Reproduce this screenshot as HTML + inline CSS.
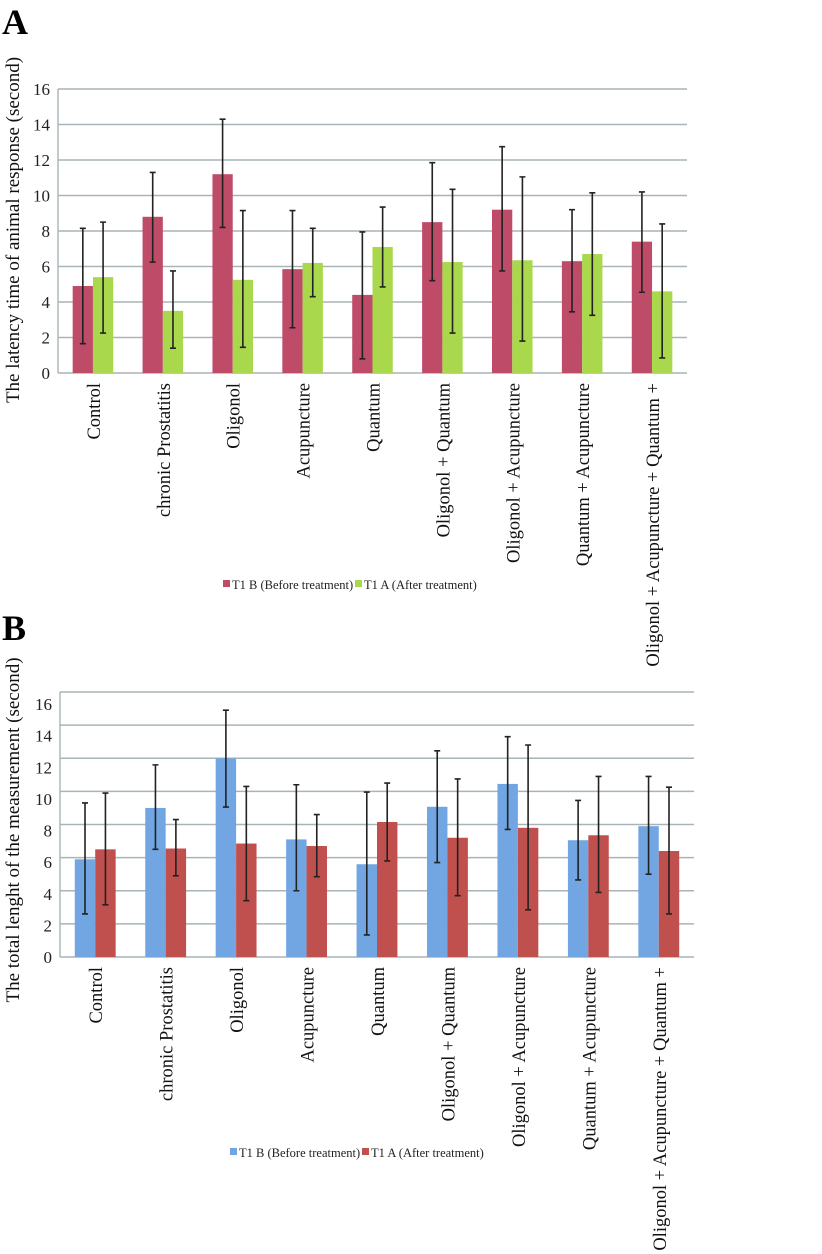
<!DOCTYPE html>
<html><head><meta charset="utf-8"><style>
body{margin:0;background:#fff;}
svg{display:block;font-family:"Liberation Serif",serif;}
</style></head><body>
<svg id="s" width="822" height="1254" viewBox="0 0 822 1254">
<text x="2" y="34" font-size="36" font-weight="bold">A</text>
<text x="2" y="640" font-size="36" font-weight="bold">B</text>
</svg>
<script>
const categories = ["Control","chronic Prostatitis","Oligonol","Acupuncture","Quantum","Oligonol + Quantum","Oligonol + Acupuncture","Quantum + Acupuncture","Oligonol + Acupuncture + Quantum +"];
const yTicks = [0,2,4,6,8,10,12,14,16];
const aBefore = [4.9,8.8,11.2,5.85,4.4,8.5,9.2,6.3,7.4];
const aAfter = [5.4,3.5,5.25,6.2,7.1,6.25,6.35,6.7,4.6];
const aBeforeLo = [1.65,6.25,8.2,2.55,0.8,5.2,5.75,3.45,4.55];
const aBeforeHi = [8.15,11.3,14.3,9.15,7.95,11.85,12.75,9.2,10.2];
const aAfterLo = [2.25,1.4,1.45,4.3,4.85,2.25,1.8,3.25,0.85];
const aAfterHi = [8.5,5.75,9.15,8.15,9.35,10.35,11.05,10.15,8.4];
const bBefore = [5.9,9.0,12.0,7.1,5.6,9.07,10.45,7.05,7.9];
const bAfter = [6.5,6.55,6.85,6.7,8.15,7.2,7.8,7.35,6.4];
const bBeforeLo = [2.6,6.5,9.05,4.0,1.33,5.7,7.7,4.65,5.0];
const bBeforeHi = [9.3,11.6,14.9,10.4,9.96,12.45,13.3,9.45,10.9];
const bAfterLo = [3.15,4.9,3.4,4.85,5.8,3.7,2.85,3.9,2.6];
const bAfterHi = [9.9,8.3,10.3,8.6,10.5,10.75,12.8,10.9,10.25];

const NS="http://www.w3.org/2000/svg";
const svg=document.getElementById('s');
function mk(t,a,p){const e=document.createElementNS(NS,t);for(const k in a)e.setAttribute(k,a[k]);(p||svg).appendChild(e);return e;}

function chart(cfg){
  const g=mk('g',{});
  
  
  const y=v=>cfg.y0-(v/16)*(cfg.y0-cfg.y16);
  const gw=(cfg.x1-cfg.x0)/categories.length;
  yTicks.forEach((t,i)=>{
    const l=mk('line',{x1:cfg.x0,x2:cfg.x1,y1:y(t),y2:y(t),stroke:'#a9b4b8','stroke-width':1.6},g);
    
    
    const tx=mk('text',{x:cfg.x0-8,y:y(t)+6+(cfg.labOff?cfg.labOff*i:0),'font-size':17,'text-anchor':'end',fill:'#222'},g);
    tx.textContent=t;
    
    
  });
  mk('line',{x1:cfg.x0,x2:cfg.x0,y1:cfg.y16,y2:cfg.y0,stroke:'#a9b4b8','stroke-width':1.4},g);
  const bw=gw*0.29;
  categories.forEach((c,i)=>{
    const cx=cfg.x0+gw*(i+0.5);
    [[cfg.s1,cfg.lo1,cfg.hi1,cfg.c1,-1],[cfg.s2,cfg.lo2,cfg.hi2,cfg.c2,0]].forEach((s,k)=>{
      const x=cx+s[4]*bw;
      const r=mk('rect',{x:x,y:y(s[0][i]),width:bw,height:y(0)-y(s[0][i]),fill:s[3]},g);
      
      
      const ex=x+bw/2;
      const eb=mk('path',{d:`M${ex},${y(s[1][i])}V${y(s[2][i])}M${ex-3},${y(s[1][i])}h6M${ex-3},${y(s[2][i])}h6`,stroke:'#222','stroke-width':1.6,fill:'none'},g);
      
      
    });
    const t=mk('text',{transform:`translate(${cx+7},${cfg.y0+10}) rotate(-90)`,'font-size':18.5,'text-anchor':'end',fill:'#111'},g);
    t.textContent=c;
    
    
  });
  const yt=mk('text',{transform:`translate(19,${cfg.titleY}) rotate(-90)`,'font-size':19,'text-anchor':'middle',fill:'#111'},g);
  yt.textContent=cfg.title;
  
  
  const lg=mk('g',{},g);
  
  
  mk('rect',{x:cfg.lx,y:cfg.ly-9,width:7,height:7,fill:cfg.c1},lg);
  const t1=mk('text',{x:cfg.lx+9,y:cfg.ly,'font-size':12.5,fill:'#222'},lg);
  t1.textContent='T1 B (Before treatment)';
  
  
  mk('rect',{x:cfg.lx+132,y:cfg.ly-9,width:7,height:7,fill:cfg.c2},lg);
  const t2=mk('text',{x:cfg.lx+141,y:cfg.ly,'font-size':12.5,fill:'#222'},lg);
  t2.textContent='T1 A (After treatment)';
  
  
}
chart({name:'chart-a',x0:58,x1:687,y0:373,y16:89,s1:aBefore,lo1:aBeforeLo,hi1:aBeforeHi,c1:'#be4b68',s2:aAfter,lo2:aAfterLo,hi2:aAfterHi,c2:'#a9d84c',title:'The latency time of animal response (second)',titleY:230,lx:223,ly:589});
chart({name:'chart-b',x0:60,x1:694,y0:957,y16:692,labOff:1.5,s1:bBefore,lo1:bBeforeLo,hi1:bBeforeHi,c1:'#72a6e2',s2:bAfter,lo2:bAfterLo,hi2:bAfterHi,c2:'#c0504d',title:'The total lenght of the measurement (second)',titleY:830,lx:230,ly:1157});
</script>
</body></html>
